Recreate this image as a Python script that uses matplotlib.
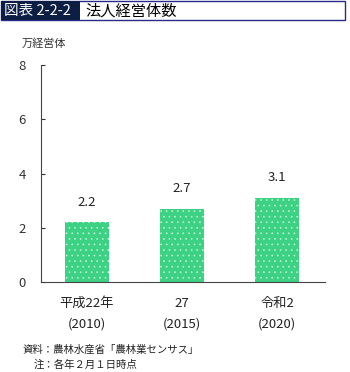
import matplotlib.pyplot as plt
import matplotlib.patches as patches

plt.rcParams['font.family'] = ['Noto Sans CJK JP', 'DejaVu Sans']
plt.rcParams['hatch.linewidth'] = 0.4

# data
years = ['平成22年\n(2010)', '27\n(2015)', '令和2\n(2020)']
values = [2.2, 2.7, 3.1]
yticks = [0, 2, 4, 6, 8]

green = '#3dd283'

fig = plt.figure(figsize=(3.5, 3.72), dpi=100)
ax = fig.add_axes([0.117, 0.242, 0.812, 0.583])

x = list(range(len(values)))
ax.bar(x, values, width=0.47, color=green, linewidth=0)
ax.bar(x, values, width=0.47, fill=False, hatch='...', edgecolor='#c8f5dc', linewidth=0)

for xi, v in zip(x, values):
    ax.text(xi, v + 0.75, f'{v:.1f}', ha='center', va='center', fontsize=9.5, color='#222222')

ax.set_xlim(-0.484, 2.505)
ax.set_ylim(0, 8)
ax.set_yticks(yticks)
ax.set_xticks(x)
ax.set_xticklabels(years, fontsize=9.5, linespacing=1.75)
ax.tick_params(axis='y', direction='in', length=3, labelsize=9.5, pad=11, colors='#333333')
ax.tick_params(axis='x', length=0, pad=11, colors='#222222')
for s in ['top', 'right']:
    ax.spines[s].set_visible(False)
ax.spines['left'].set_color('#444444')
ax.spines['bottom'].set_color('#444444')

# title box
fig.patches.append(patches.Rectangle((0.003, 0.945), 0.982, 0.052, transform=fig.transFigure,
                                     facecolor='white', edgecolor='#2a2a8a', linewidth=1))
fig.patches.append(patches.Rectangle((0.003, 0.945), 0.225, 0.052, transform=fig.transFigure,
                                     facecolor='#0d1e45', edgecolor='none'))
fig.text(0.010, 0.971, '図表 2-2-2', color='white', fontsize=10.5, va='center', ha='left')
fig.text(0.245, 0.971, '法人経営体数', color='black', fontsize=11, va='center', ha='left')

fig.text(0.063, 0.884, '万経営体', fontsize=8, va='center', ha='left', color='#333333')

fig.text(0.065, 0.059, '資料：農林水産省「農林業センサス」', fontsize=7.5, va='center', ha='left', color='#222222')
fig.text(0.097, 0.019, '注：各年２月１日時点', fontsize=7.5, va='center', ha='left', color='#222222')

fig.savefig('out.png', dpi=100)
